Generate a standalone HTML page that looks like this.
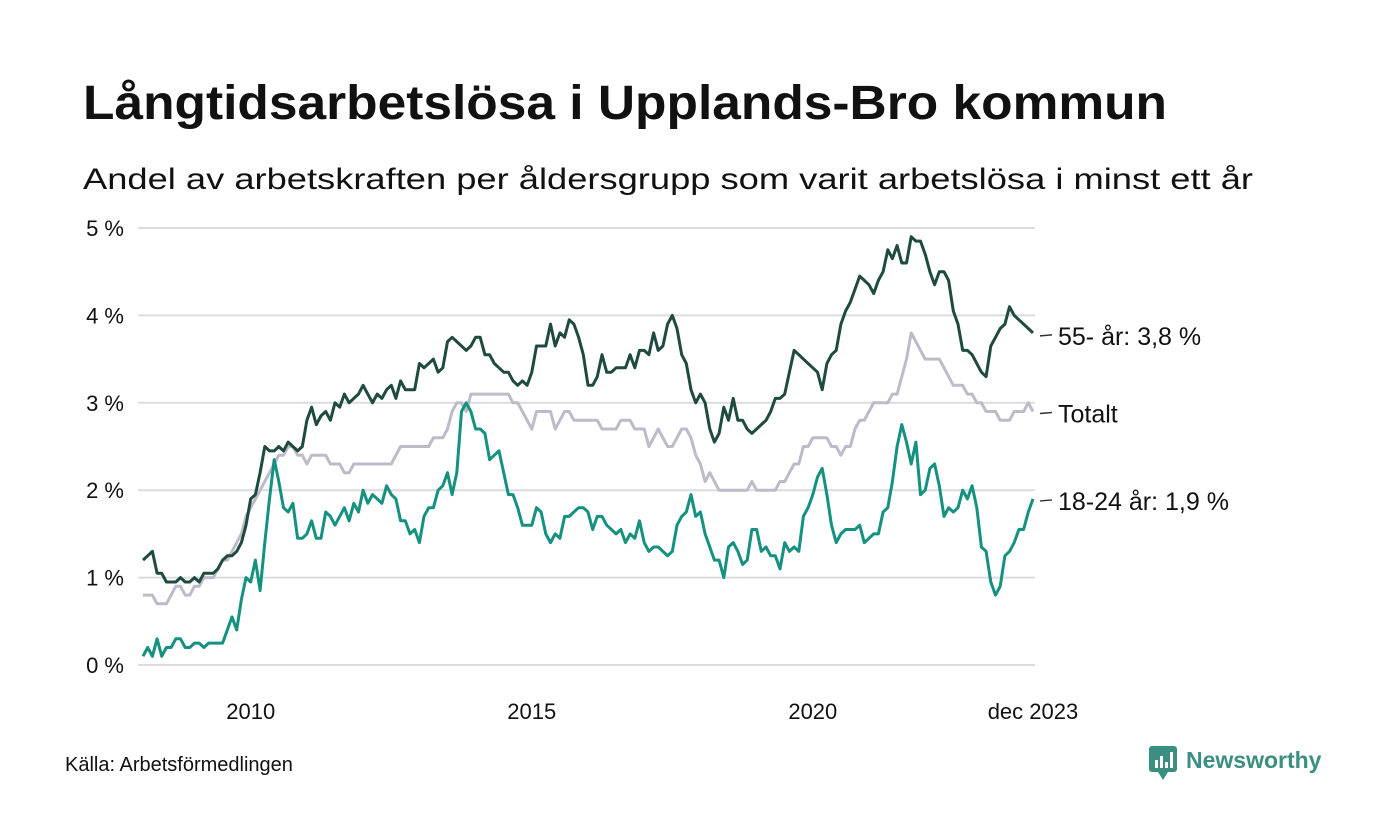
<!DOCTYPE html>
<html><head><meta charset="utf-8"><style>
body{margin:0;background:#fff;}
svg{display:block;font-family:"Liberation Sans",sans-serif;}
</style></head><body>
<svg id="chart" width="1400" height="840" viewBox="0 0 1400 840">
<text x="83" y="119" font-size="48" font-weight="bold" fill="#111" textLength="1084" lengthAdjust="spacingAndGlyphs">Långtidsarbetslösa i Upplands-Bro kommun</text>
<text x="83" y="189" font-size="30" fill="#111" textLength="1170" lengthAdjust="spacingAndGlyphs">Andel av arbetskraften per åldersgrupp som varit arbetslösa i minst ett år</text>
<g id="grid"></g>
<g id="lines"></g>
<g id="labels"></g>
<text x="65" y="771" font-size="20" fill="#111">Källa: Arbetsförmedlingen</text>
<g>
<rect x="1149" y="746" width="28" height="26" rx="3" fill="#3a8f80"/>
<path d="M1158 772 L1163 780 L1168 772 Z" fill="#3a8f80"/>
<rect x="1155" y="760" width="3" height="8" fill="#fff"/><rect x="1160" y="756" width="3" height="12" fill="#fff"/><rect x="1165" y="762" width="3" height="6" fill="#fff"/><rect x="1170" y="752" width="3" height="16" fill="#fff"/>
<text x="1186" y="768" font-size="23" font-weight="bold" fill="#3a8f80">Newsworthy</text>
</g>
</svg>
<script>
const yTicks=[0,1,2,3,4,5];
const xTickYears=[2010,2015,2020];
const startYear=2008, startMonth=1; // Feb 2008 (0-based month)
const s55=[1.2,1.25,1.3,1.05,1.05,0.95,0.95,0.95,1.0,0.95,0.95,
1.0,0.95,1.05,1.05,1.05,1.1,1.2,1.25,1.25,1.3,1.4,1.6,
1.9,1.95,2.2,2.5,2.45,2.45,2.5,2.45,2.55,2.5,2.45,2.5,
2.8,2.95,2.75,2.85,2.9,2.8,3.0,2.95,3.1,3.0,3.05,3.1,
3.2,3.1,3.0,3.1,3.05,3.15,3.2,3.05,3.25,3.15,3.15,3.15,
3.45,3.4,3.45,3.5,3.35,3.4,3.7,3.75,3.7,3.65,3.6,3.65,
3.75,3.75,3.55,3.55,3.45,3.4,3.35,3.35,3.25,3.2,3.25,3.2,
3.35,3.65,3.65,3.65,3.9,3.65,3.8,3.75,3.95,3.9,3.75,3.55,
3.2,3.2,3.3,3.55,3.35,3.35,3.4,3.4,3.4,3.55,3.4,3.6,
3.6,3.55,3.8,3.6,3.65,3.9,4.0,3.85,3.55,3.45,3.15,3.0,
3.1,3.0,2.7,2.55,2.65,2.95,2.8,3.05,2.8,2.8,2.7,2.65,
2.7,2.75,2.8,2.9,3.05,3.05,3.1,3.35,3.6,3.55,3.5,3.45,
3.4,3.35,3.15,3.45,3.55,3.6,3.9,4.05,4.15,4.3,4.45,4.4,
4.35,4.25,4.4,4.5,4.75,4.65,4.8,4.6,4.6,4.9,4.85,4.85,
4.7,4.5,4.35,4.5,4.5,4.4,4.05,3.9,3.6,3.6,3.55,3.45,
3.35,3.3,3.65,3.75,3.85,3.9,4.1,4.0,3.95,3.9,3.85,3.8];
const sTot=[0.8,0.8,0.8,0.7,0.7,0.7,0.8,0.9,0.9,0.8,0.8,
0.9,0.9,1.0,1.0,1.0,1.1,1.2,1.2,1.3,1.4,1.5,1.7,
1.8,1.9,2.0,2.1,2.2,2.3,2.4,2.4,2.5,2.5,2.4,2.4,
2.3,2.4,2.4,2.4,2.4,2.3,2.3,2.3,2.2,2.2,2.3,2.3,
2.3,2.3,2.3,2.3,2.3,2.3,2.3,2.4,2.5,2.5,2.5,2.5,
2.5,2.5,2.5,2.6,2.6,2.6,2.7,2.9,3.0,3.0,2.9,3.1,
3.1,3.1,3.1,3.1,3.1,3.1,3.1,3.1,3.0,3.0,2.9,2.8,
2.7,2.9,2.9,2.9,2.9,2.7,2.8,2.9,2.9,2.8,2.8,2.8,
2.8,2.8,2.8,2.7,2.7,2.7,2.7,2.8,2.8,2.8,2.7,2.7,
2.7,2.5,2.6,2.7,2.6,2.5,2.5,2.6,2.7,2.7,2.6,2.4,
2.3,2.1,2.2,2.1,2.0,2.0,2.0,2.0,2.0,2.0,2.0,2.1,
2.0,2.0,2.0,2.0,2.0,2.1,2.1,2.2,2.3,2.3,2.5,2.5,
2.6,2.6,2.6,2.6,2.5,2.5,2.4,2.5,2.5,2.7,2.8,2.8,
2.9,3.0,3.0,3.0,3.0,3.1,3.1,3.3,3.5,3.8,3.7,3.6,
3.5,3.5,3.5,3.5,3.4,3.3,3.2,3.2,3.2,3.1,3.1,3.0,
3.0,2.9,2.9,2.9,2.8,2.8,2.8,2.9,2.9,2.9,3.0,2.9];
const s1824=[0.1,0.2,0.1,0.3,0.1,0.2,0.2,0.3,0.3,0.2,0.2,
0.25,0.25,0.2,0.25,0.25,0.25,0.25,0.4,0.55,0.4,0.75,1.0,
0.95,1.2,0.85,1.4,1.9,2.35,2.1,1.8,1.75,1.85,1.45,1.45,
1.5,1.65,1.45,1.45,1.75,1.7,1.6,1.7,1.8,1.65,1.85,1.75,
2.0,1.85,1.95,1.9,1.85,2.05,1.95,1.9,1.65,1.65,1.5,1.55,
1.4,1.7,1.8,1.8,2.0,2.05,2.2,1.95,2.2,2.9,3.0,2.9,
2.7,2.7,2.65,2.35,2.4,2.45,2.2,1.95,1.95,1.8,1.6,1.6,
1.6,1.8,1.75,1.5,1.4,1.5,1.45,1.7,1.7,1.75,1.8,1.8,
1.75,1.55,1.7,1.7,1.6,1.55,1.5,1.55,1.4,1.5,1.45,1.65,
1.4,1.3,1.35,1.35,1.3,1.25,1.3,1.6,1.7,1.75,1.95,1.7,
1.75,1.5,1.35,1.2,1.2,1.0,1.35,1.4,1.3,1.15,1.2,1.55,
1.55,1.3,1.35,1.25,1.25,1.1,1.4,1.3,1.35,1.3,1.7,1.8,
1.95,2.15,2.25,1.95,1.6,1.4,1.5,1.55,1.55,1.55,1.6,1.4,
1.45,1.5,1.5,1.75,1.8,2.1,2.5,2.75,2.55,2.3,2.55,1.95,
2.0,2.25,2.3,2.05,1.7,1.8,1.75,1.8,2.0,1.9,2.05,1.8,
1.35,1.3,0.95,0.8,0.9,1.25,1.3,1.4,1.55,1.55,1.75,1.9];
const seriesNames=["Totalt","55- år","18-24 år"];
const NS="http://www.w3.org/2000/svg";
const x0=143, pxPerMonth=4.684, y0=665, pxPerUnit=87.4;
function xIdx(i){return x0+i*pxPerMonth;}
function xYear(yr){return x0+((yr-startYear)*12-startMonth)*pxPerMonth;}
function yVal(v){return y0-v*pxPerUnit;}
function mk(tag,attrs,parent){const e=document.createElementNS(NS,tag);for(const k in attrs)e.setAttribute(k,attrs[k]);parent.appendChild(e);return e;}
const grid=document.getElementById('grid');
yTicks.forEach(t=>{
 const l=mk('line',{x1:138,x2:1035,y1:yVal(t),y2:yVal(t),stroke:'#dcdce0','stroke-width':2},grid);
 
 
 const tx=mk('text',{x:124,y:yVal(t)+8,'font-size':22,'text-anchor':'end',fill:'#111'},grid);
 tx.textContent=t+' %';
 
 
});
xTickYears.forEach(yr=>{
 const tx=mk('text',{x:xYear(yr),y:719,'font-size':22,'text-anchor':'middle',fill:'#111'},grid);
 tx.textContent=yr;
 
 
});
const last=mk('text',{x:xIdx(s55.length-1),y:719,'font-size':22,'text-anchor':'middle',fill:'#111'},grid);
last.textContent='dec 2023';


const lines=document.getElementById('lines');
function draw(arr,color,name){
 const d=arr.map((v,i)=>(i?'L':'M')+xIdx(i).toFixed(1)+' '+yVal(v).toFixed(1)).join(' ');
 const p=mk('path',{d:d,fill:'none',stroke:color,'stroke-width':3,'stroke-linejoin':'round'},lines);
 
 
}
draw(sTot,'#bdbbc8','line-totalt');
draw(s55,'#1f4a40','line-55-plus');
draw(s1824,'#14917f','line-18-24');
const labels=document.getElementById('labels');
function fmt(v){return v.toFixed(1).replace('.',',');}
[[s55,seriesNames[1]+': '+fmt(s55[s55.length-1])+' %',3],[sTot,seriesNames[0],2],[s1824,seriesNames[2]+': '+fmt(s1824[s1824.length-1])+' %',2]].forEach((a,k)=>{
 const y=yVal(a[0][a[0].length-1])+a[2];
 const l=mk('line',{x1:1040,x2:1052,y1:y,y2:y-1,stroke:'#333','stroke-width':1.5},labels);
 
 
 const t=mk('text',{x:1058,y:y+9,'font-size':25,fill:'#111'},labels);
 t.textContent=a[1];
 
 
});
</script>
</body></html>
